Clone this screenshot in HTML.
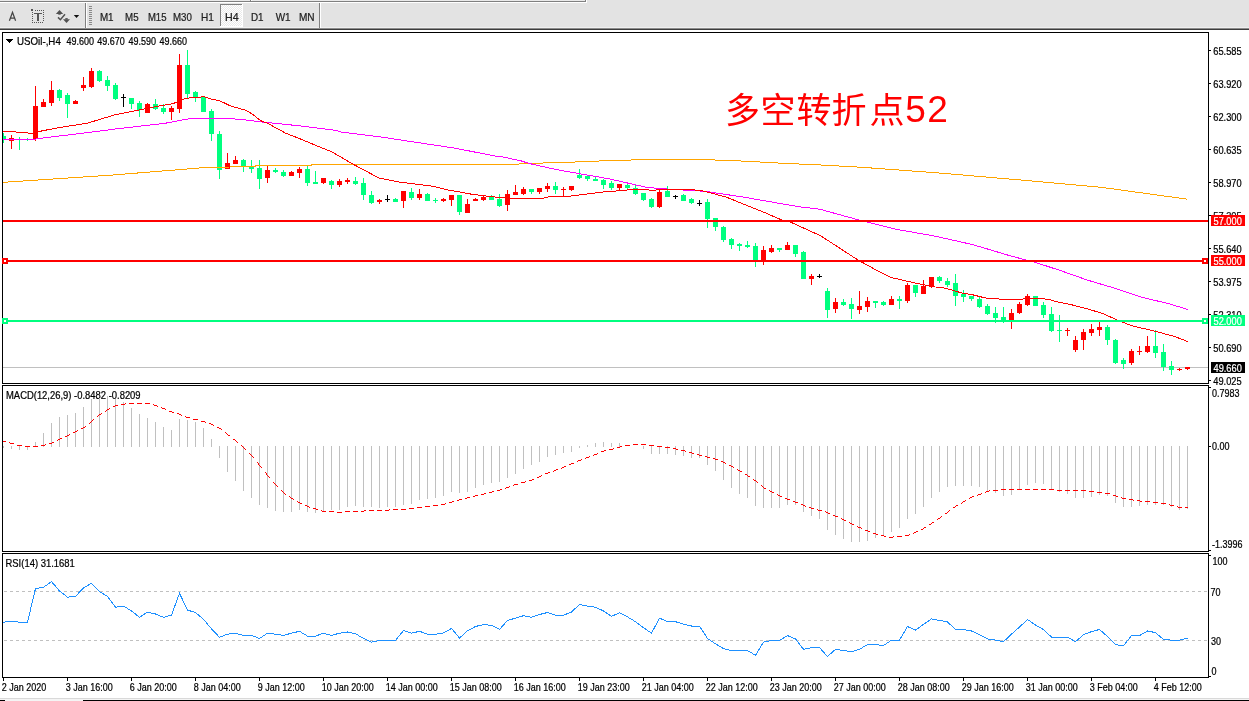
<!DOCTYPE html>
<html><head><meta charset="utf-8"><title>USOil H4</title>
<style>
html,body{margin:0;padding:0;background:#fff;}
body{width:1249px;height:701px;overflow:hidden;position:relative;}
svg{position:absolute;left:0;top:0;display:block;}
svg text{font-family:"Liberation Sans", "Noto Sans CJK SC", sans-serif;}
svg text.s{stroke:currentColor;stroke-width:0.22px;}
</style></head>
<body>
<svg width="1249" height="701" viewBox="0 0 1249 701" shape-rendering="crispEdges">
<rect x="0" y="0" width="1249" height="27" fill="#e3e3e3"/>
<rect x="0" y="0" width="585" height="1" fill="#eaeaea"/>
<rect x="0" y="1" width="586" height="1" fill="#808080"/>
<rect x="585" y="0" width="1" height="1" fill="#808080"/>
<rect x="0" y="2" width="587" height="1" fill="#ffffff"/>
<rect x="586" y="0" width="1" height="2" fill="#ffffff"/>
<rect x="250" y="0" width="1" height="2" fill="#808080"/>
<rect x="251" y="0" width="1" height="1" fill="#ffffff"/>
<rect x="0" y="27" width="1249" height="1" fill="#efefef"/>
<rect x="0" y="28" width="1249" height="1" fill="#8c8c8c"/>
<rect x="0" y="29" width="1249" height="1" fill="#3c3c3c"/>
<path d="M9.4 20.8 L12.5 12.4 L15.6 20.8 M10.6 18.1 L14.4 18.1" fill="none" stroke="#444" stroke-width="1.25" shape-rendering="geometricPrecision"/>
<rect x="31" y="9" width="2" height="2" fill="#555"/>
<rect x="32" y="12" width="1" height="1" fill="#555"/>
<rect x="32" y="14" width="1" height="1" fill="#555"/>
<rect x="32" y="16" width="1" height="1" fill="#555"/>
<rect x="32" y="18" width="1" height="1" fill="#555"/>
<rect x="32" y="20" width="1" height="1" fill="#555"/>
<rect x="43" y="10" width="1" height="1" fill="#555"/>
<rect x="43" y="12" width="1" height="1" fill="#555"/>
<rect x="43" y="14" width="1" height="1" fill="#555"/>
<rect x="43" y="16" width="1" height="1" fill="#555"/>
<rect x="43" y="18" width="1" height="1" fill="#555"/>
<rect x="43" y="20" width="1" height="1" fill="#555"/>
<rect x="35" y="10" width="1" height="1" fill="#555"/>
<rect x="37" y="10" width="1" height="1" fill="#555"/>
<rect x="39" y="10" width="1" height="1" fill="#555"/>
<rect x="41" y="10" width="1" height="1" fill="#555"/>
<rect x="32" y="22" width="1" height="1" fill="#555"/>
<rect x="34" y="22" width="1" height="1" fill="#555"/>
<rect x="36" y="22" width="1" height="1" fill="#555"/>
<rect x="38" y="22" width="1" height="1" fill="#555"/>
<rect x="40" y="22" width="1" height="1" fill="#555"/>
<rect x="42" y="22" width="1" height="1" fill="#555"/>
<rect x="34" y="13" width="8" height="1" fill="#555"/>
<rect x="37" y="13" width="2" height="8" fill="#555"/>
<g shape-rendering="geometricPrecision" fill="#505050">
<path d="M55.8 14 L59.5 10 L63.2 14 Z"/><rect x="58.3" y="13.5" width="2.4" height="1.2"/>
<path d="M63 19.3 L66.5 23 L70 19.3 Z"/><rect x="65.3" y="18.1" width="2.4" height="1.4"/>
<path d="M58 17.4 L60.4 19.7 L65 14.3" fill="none" stroke="#505050" stroke-width="1.5"/>
<path d="M73.8 15 L79.2 15 L76.5 18 Z" fill="#111"/>
</g>
<rect x="85" y="3" width="1" height="25" fill="#808080"/>
<rect x="86" y="3" width="1" height="25" fill="#ffffff"/>
<rect x="319" y="3" width="1" height="25" fill="#808080"/>
<rect x="320" y="3" width="1" height="25" fill="#ffffff"/>
<rect x="89" y="6" width="3" height="1" fill="#8a8a8a"/>
<rect x="89" y="8" width="3" height="1" fill="#8a8a8a"/>
<rect x="89" y="10" width="3" height="1" fill="#8a8a8a"/>
<rect x="89" y="12" width="3" height="1" fill="#8a8a8a"/>
<rect x="89" y="14" width="3" height="1" fill="#8a8a8a"/>
<rect x="89" y="16" width="3" height="1" fill="#8a8a8a"/>
<rect x="89" y="18" width="3" height="1" fill="#8a8a8a"/>
<rect x="89" y="20" width="3" height="1" fill="#8a8a8a"/>
<rect x="89" y="22" width="3" height="1" fill="#8a8a8a"/>
<rect x="89" y="24" width="3" height="1" fill="#8a8a8a"/>
<defs><pattern id="chk" width="2" height="2" patternUnits="userSpaceOnUse"><rect width="2" height="2" fill="#e9e9e9"/><rect width="1" height="1" fill="#ffffff"/><rect x="1" y="1" width="1" height="1" fill="#ffffff"/></pattern></defs>
<rect x="220" y="4" width="23" height="23" fill="url(#chk)"/>
<rect x="220" y="4" width="23" height="1" fill="#808080"/>
<rect x="220" y="4" width="1" height="23" fill="#808080"/>
<rect x="242" y="4" width="1" height="23" fill="#ffffff"/>
<rect x="220" y="26" width="23" height="1" fill="#ffffff"/>
<text class="s" x="111.00" y="20.60" fill="#222" color="#222" font-size="10" transform="scale(0.9 1)" textLength="15.22" lengthAdjust="spacingAndGlyphs">M1</text>
<text class="s" x="139.00" y="20.60" fill="#222" color="#222" font-size="10" transform="scale(0.9 1)" textLength="15.00" lengthAdjust="spacingAndGlyphs">M5</text>
<text class="s" x="164.33" y="20.60" fill="#222" color="#222" font-size="10" transform="scale(0.9 1)" textLength="20.67" lengthAdjust="spacingAndGlyphs">M15</text>
<text class="s" x="192.11" y="20.60" fill="#222" color="#222" font-size="10" transform="scale(0.9 1)" textLength="21.00" lengthAdjust="spacingAndGlyphs">M30</text>
<text class="s" x="223.22" y="20.60" fill="#222" color="#222" font-size="10" transform="scale(0.9 1)" textLength="14.33" lengthAdjust="spacingAndGlyphs">H1</text>
<text class="s" x="249.89" y="20.60" fill="#222" color="#222" font-size="10" transform="scale(0.9 1)" textLength="15.22" lengthAdjust="spacingAndGlyphs">H4</text>
<text class="s" x="278.89" y="20.60" fill="#222" color="#222" font-size="10" transform="scale(0.9 1)" textLength="14.00" lengthAdjust="spacingAndGlyphs">D1</text>
<text class="s" x="306.33" y="20.60" fill="#222" color="#222" font-size="10" transform="scale(0.9 1)" textLength="16.56" lengthAdjust="spacingAndGlyphs">W1</text>
<text class="s" x="332.11" y="20.60" fill="#222" color="#222" font-size="10" transform="scale(0.9 1)" textLength="17.44" lengthAdjust="spacingAndGlyphs">MN</text>
<defs><clipPath id="cm"><rect x="3" y="33" width="1205" height="350"/></clipPath><clipPath id="cd"><rect x="3" y="386" width="1205" height="165"/></clipPath><clipPath id="cr"><rect x="3" y="554" width="1205" height="123"/></clipPath></defs>
<rect x="2.5" y="32.5" width="1206" height="351" fill="none" stroke="#000" stroke-width="1"/>
<rect x="2.5" y="385.5" width="1206" height="166" fill="none" stroke="#000" stroke-width="1"/>
<rect x="2.5" y="553.5" width="1206" height="124" fill="none" stroke="#000" stroke-width="1"/>
<g clip-path="url(#cm)">
<rect x="3" y="367" width="1205" height="1" fill="#c0c0c0"/>
<rect x="3" y="133" width="1" height="10" fill="#00ff7f"/>
<rect x="1" y="136" width="5" height="3" fill="#00ff7f"/>
<rect x="11" y="135" width="1" height="14" fill="#ff0000"/>
<rect x="9" y="138" width="5" height="3" fill="#ff0000"/>
<rect x="19" y="137" width="1" height="13" fill="#00ff7f"/>
<rect x="17" y="139" width="5" height="1" fill="#00ff7f"/>
<rect x="27" y="138" width="1" height="3" fill="#00ff7f"/>
<rect x="25" y="139" width="5" height="1" fill="#00ff7f"/>
<rect x="35" y="86" width="1" height="55" fill="#ff0000"/>
<rect x="33" y="106" width="5" height="33" fill="#ff0000"/>
<rect x="43" y="99" width="1" height="8" fill="#ff0000"/>
<rect x="41" y="102" width="5" height="5" fill="#ff0000"/>
<rect x="51" y="81" width="1" height="25" fill="#ff0000"/>
<rect x="49" y="90" width="5" height="13" fill="#ff0000"/>
<rect x="59" y="89" width="1" height="12" fill="#00ff7f"/>
<rect x="57" y="90" width="5" height="8" fill="#00ff7f"/>
<rect x="67" y="93" width="1" height="25" fill="#00ff7f"/>
<rect x="65" y="95" width="5" height="9" fill="#00ff7f"/>
<rect x="75" y="100" width="1" height="4" fill="#ff0000"/>
<rect x="73" y="101" width="5" height="3" fill="#ff0000"/>
<rect x="83" y="77" width="1" height="14" fill="#ff0000"/>
<rect x="81" y="85" width="5" height="3" fill="#ff0000"/>
<rect x="91" y="68" width="1" height="20" fill="#ff0000"/>
<rect x="89" y="71" width="5" height="16" fill="#ff0000"/>
<rect x="99" y="70" width="1" height="12" fill="#00ff7f"/>
<rect x="97" y="71" width="5" height="10" fill="#00ff7f"/>
<rect x="107" y="76" width="1" height="15" fill="#00ff7f"/>
<rect x="105" y="80" width="5" height="6" fill="#00ff7f"/>
<rect x="115" y="83" width="1" height="17" fill="#00ff7f"/>
<rect x="113" y="85" width="5" height="14" fill="#00ff7f"/>
<rect x="123" y="94" width="1" height="13" fill="#000000"/>
<rect x="121" y="97" width="5" height="1" fill="#000000"/>
<rect x="131" y="98" width="1" height="11" fill="#00ff7f"/>
<rect x="129" y="98" width="5" height="6" fill="#00ff7f"/>
<rect x="139" y="101" width="1" height="16" fill="#00ff7f"/>
<rect x="137" y="103" width="5" height="7" fill="#00ff7f"/>
<rect x="147" y="103" width="1" height="10" fill="#ff0000"/>
<rect x="145" y="104" width="5" height="9" fill="#ff0000"/>
<rect x="155" y="99" width="1" height="11" fill="#00ff7f"/>
<rect x="153" y="104" width="5" height="5" fill="#00ff7f"/>
<rect x="163" y="104" width="1" height="10" fill="#00ff7f"/>
<rect x="161" y="108" width="5" height="4" fill="#00ff7f"/>
<rect x="171" y="106" width="1" height="14" fill="#ff0000"/>
<rect x="169" y="108" width="5" height="4" fill="#ff0000"/>
<rect x="179" y="54" width="1" height="59" fill="#ff0000"/>
<rect x="177" y="65" width="5" height="44" fill="#ff0000"/>
<rect x="187" y="50" width="1" height="48" fill="#00ff7f"/>
<rect x="185" y="65" width="5" height="29" fill="#00ff7f"/>
<rect x="195" y="91" width="1" height="11" fill="#00ff7f"/>
<rect x="193" y="92" width="5" height="5" fill="#00ff7f"/>
<rect x="203" y="97" width="1" height="15" fill="#00ff7f"/>
<rect x="201" y="97" width="5" height="15" fill="#00ff7f"/>
<rect x="211" y="109" width="1" height="32" fill="#00ff7f"/>
<rect x="209" y="111" width="5" height="23" fill="#00ff7f"/>
<rect x="219" y="131" width="1" height="48" fill="#00ff7f"/>
<rect x="217" y="134" width="5" height="36" fill="#00ff7f"/>
<rect x="227" y="153" width="1" height="16" fill="#ff0000"/>
<rect x="225" y="163" width="5" height="6" fill="#ff0000"/>
<rect x="235" y="156" width="1" height="8" fill="#ff0000"/>
<rect x="233" y="160" width="5" height="4" fill="#ff0000"/>
<rect x="243" y="159" width="1" height="13" fill="#00ff7f"/>
<rect x="241" y="160" width="5" height="7" fill="#00ff7f"/>
<rect x="251" y="160" width="1" height="13" fill="#00ff7f"/>
<rect x="249" y="166" width="5" height="3" fill="#00ff7f"/>
<rect x="259" y="160" width="1" height="29" fill="#00ff7f"/>
<rect x="257" y="168" width="5" height="11" fill="#00ff7f"/>
<rect x="267" y="165" width="1" height="18" fill="#ff0000"/>
<rect x="265" y="170" width="5" height="8" fill="#ff0000"/>
<rect x="275" y="168" width="1" height="5" fill="#00ff7f"/>
<rect x="273" y="170" width="5" height="2" fill="#00ff7f"/>
<rect x="283" y="170" width="1" height="7" fill="#00ff7f"/>
<rect x="281" y="172" width="5" height="4" fill="#00ff7f"/>
<rect x="291" y="171" width="1" height="5" fill="#ff0000"/>
<rect x="289" y="172" width="5" height="4" fill="#ff0000"/>
<rect x="299" y="167" width="1" height="11" fill="#ff0000"/>
<rect x="297" y="169" width="5" height="4" fill="#ff0000"/>
<rect x="307" y="165" width="1" height="21" fill="#00ff7f"/>
<rect x="305" y="169" width="5" height="14" fill="#00ff7f"/>
<rect x="315" y="171" width="1" height="13" fill="#00ff7f"/>
<rect x="313" y="182" width="5" height="2" fill="#00ff7f"/>
<rect x="323" y="178" width="1" height="6" fill="#ff0000"/>
<rect x="321" y="178" width="5" height="5" fill="#ff0000"/>
<rect x="331" y="180" width="1" height="9" fill="#00ff7f"/>
<rect x="329" y="181" width="5" height="4" fill="#00ff7f"/>
<rect x="339" y="179" width="1" height="8" fill="#ff0000"/>
<rect x="337" y="181" width="5" height="4" fill="#ff0000"/>
<rect x="347" y="178" width="1" height="6" fill="#ff0000"/>
<rect x="345" y="180" width="5" height="2" fill="#ff0000"/>
<rect x="355" y="177" width="1" height="8" fill="#00ff7f"/>
<rect x="353" y="181" width="5" height="3" fill="#00ff7f"/>
<rect x="363" y="178" width="1" height="22" fill="#00ff7f"/>
<rect x="361" y="183" width="5" height="12" fill="#00ff7f"/>
<rect x="371" y="191" width="1" height="13" fill="#00ff7f"/>
<rect x="369" y="195" width="5" height="8" fill="#00ff7f"/>
<rect x="379" y="199" width="1" height="5" fill="#ff0000"/>
<rect x="377" y="200" width="5" height="2" fill="#ff0000"/>
<rect x="387" y="195" width="1" height="7" fill="#000000"/>
<rect x="385" y="199" width="5" height="1" fill="#000000"/>
<rect x="395" y="198" width="1" height="4" fill="#00ff7f"/>
<rect x="393" y="199" width="5" height="3" fill="#00ff7f"/>
<rect x="403" y="191" width="1" height="17" fill="#ff0000"/>
<rect x="401" y="191" width="5" height="10" fill="#ff0000"/>
<rect x="411" y="188" width="1" height="12" fill="#00ff7f"/>
<rect x="409" y="192" width="5" height="6" fill="#00ff7f"/>
<rect x="419" y="189" width="1" height="11" fill="#ff0000"/>
<rect x="417" y="194" width="5" height="4" fill="#ff0000"/>
<rect x="427" y="193" width="1" height="8" fill="#00ff7f"/>
<rect x="425" y="194" width="5" height="7" fill="#00ff7f"/>
<rect x="435" y="198" width="1" height="5" fill="#00ff7f"/>
<rect x="433" y="200" width="5" height="1" fill="#00ff7f"/>
<rect x="443" y="198" width="1" height="4" fill="#ff0000"/>
<rect x="441" y="199" width="5" height="2" fill="#ff0000"/>
<rect x="451" y="195" width="1" height="11" fill="#ff0000"/>
<rect x="449" y="195" width="5" height="5" fill="#ff0000"/>
<rect x="459" y="195" width="1" height="20" fill="#00ff7f"/>
<rect x="457" y="195" width="5" height="17" fill="#00ff7f"/>
<rect x="467" y="199" width="1" height="14" fill="#ff0000"/>
<rect x="465" y="204" width="5" height="9" fill="#ff0000"/>
<rect x="475" y="198" width="1" height="3" fill="#ff0000"/>
<rect x="473" y="199" width="5" height="2" fill="#ff0000"/>
<rect x="483" y="196" width="1" height="5" fill="#ff0000"/>
<rect x="481" y="197" width="5" height="3" fill="#ff0000"/>
<rect x="491" y="195" width="1" height="5" fill="#00ff7f"/>
<rect x="489" y="197" width="5" height="3" fill="#00ff7f"/>
<rect x="499" y="194" width="1" height="13" fill="#00ff7f"/>
<rect x="497" y="199" width="5" height="7" fill="#00ff7f"/>
<rect x="507" y="190" width="1" height="21" fill="#ff0000"/>
<rect x="505" y="194" width="5" height="11" fill="#ff0000"/>
<rect x="515" y="185" width="1" height="10" fill="#ff0000"/>
<rect x="513" y="192" width="5" height="3" fill="#ff0000"/>
<rect x="523" y="187" width="1" height="8" fill="#ff0000"/>
<rect x="521" y="189" width="5" height="5" fill="#ff0000"/>
<rect x="531" y="189" width="1" height="5" fill="#00ff7f"/>
<rect x="529" y="189" width="5" height="3" fill="#00ff7f"/>
<rect x="539" y="188" width="1" height="6" fill="#ff0000"/>
<rect x="537" y="188" width="5" height="4" fill="#ff0000"/>
<rect x="547" y="183" width="1" height="9" fill="#ff0000"/>
<rect x="545" y="186" width="5" height="3" fill="#ff0000"/>
<rect x="555" y="182" width="1" height="12" fill="#00ff7f"/>
<rect x="553" y="186" width="5" height="4" fill="#00ff7f"/>
<rect x="563" y="187" width="1" height="9" fill="#ff0000"/>
<rect x="561" y="189" width="5" height="1" fill="#ff0000"/>
<rect x="571" y="186" width="1" height="5" fill="#ff0000"/>
<rect x="569" y="186" width="5" height="4" fill="#ff0000"/>
<rect x="579" y="169" width="1" height="10" fill="#00ff7f"/>
<rect x="577" y="175" width="5" height="3" fill="#00ff7f"/>
<rect x="587" y="176" width="1" height="5" fill="#00ff7f"/>
<rect x="585" y="176" width="5" height="3" fill="#00ff7f"/>
<rect x="595" y="177" width="1" height="4" fill="#00ff7f"/>
<rect x="593" y="179" width="5" height="2" fill="#00ff7f"/>
<rect x="603" y="179" width="1" height="10" fill="#00ff7f"/>
<rect x="601" y="180" width="5" height="5" fill="#00ff7f"/>
<rect x="611" y="181" width="1" height="9" fill="#00ff7f"/>
<rect x="609" y="183" width="5" height="5" fill="#00ff7f"/>
<rect x="619" y="184" width="1" height="7" fill="#ff0000"/>
<rect x="617" y="184" width="5" height="4" fill="#ff0000"/>
<rect x="627" y="184" width="1" height="5" fill="#00ff7f"/>
<rect x="625" y="185" width="5" height="3" fill="#00ff7f"/>
<rect x="635" y="185" width="1" height="10" fill="#00ff7f"/>
<rect x="633" y="188" width="5" height="6" fill="#00ff7f"/>
<rect x="643" y="193" width="1" height="8" fill="#00ff7f"/>
<rect x="641" y="193" width="5" height="7" fill="#00ff7f"/>
<rect x="651" y="198" width="1" height="10" fill="#00ff7f"/>
<rect x="649" y="199" width="5" height="8" fill="#00ff7f"/>
<rect x="659" y="189" width="1" height="19" fill="#ff0000"/>
<rect x="657" y="192" width="5" height="15" fill="#ff0000"/>
<rect x="667" y="186" width="1" height="11" fill="#00ff7f"/>
<rect x="665" y="191" width="5" height="6" fill="#00ff7f"/>
<rect x="675" y="195" width="1" height="4" fill="#000000"/>
<rect x="673" y="196" width="5" height="1" fill="#000000"/>
<rect x="683" y="194" width="1" height="7" fill="#00ff7f"/>
<rect x="681" y="195" width="5" height="6" fill="#00ff7f"/>
<rect x="691" y="198" width="1" height="6" fill="#00ff7f"/>
<rect x="689" y="199" width="5" height="4" fill="#00ff7f"/>
<rect x="699" y="200" width="1" height="6" fill="#000000"/>
<rect x="697" y="203" width="5" height="1" fill="#000000"/>
<rect x="707" y="199" width="1" height="29" fill="#00ff7f"/>
<rect x="705" y="202" width="5" height="17" fill="#00ff7f"/>
<rect x="715" y="218" width="1" height="13" fill="#00ff7f"/>
<rect x="713" y="218" width="5" height="9" fill="#00ff7f"/>
<rect x="723" y="226" width="1" height="16" fill="#00ff7f"/>
<rect x="721" y="227" width="5" height="13" fill="#00ff7f"/>
<rect x="731" y="238" width="1" height="11" fill="#00ff7f"/>
<rect x="729" y="239" width="5" height="6" fill="#00ff7f"/>
<rect x="739" y="243" width="1" height="8" fill="#00ff7f"/>
<rect x="737" y="244" width="5" height="2" fill="#00ff7f"/>
<rect x="747" y="241" width="1" height="7" fill="#00ff7f"/>
<rect x="745" y="245" width="5" height="2" fill="#00ff7f"/>
<rect x="755" y="243" width="1" height="24" fill="#00ff7f"/>
<rect x="753" y="246" width="5" height="16" fill="#00ff7f"/>
<rect x="763" y="246" width="1" height="19" fill="#ff0000"/>
<rect x="761" y="250" width="5" height="10" fill="#ff0000"/>
<rect x="771" y="245" width="1" height="8" fill="#ff0000"/>
<rect x="769" y="248" width="5" height="4" fill="#ff0000"/>
<rect x="779" y="248" width="1" height="4" fill="#00ff7f"/>
<rect x="777" y="248" width="5" height="2" fill="#00ff7f"/>
<rect x="787" y="242" width="1" height="8" fill="#ff0000"/>
<rect x="785" y="245" width="5" height="5" fill="#ff0000"/>
<rect x="795" y="245" width="1" height="12" fill="#00ff7f"/>
<rect x="793" y="245" width="5" height="9" fill="#00ff7f"/>
<rect x="803" y="251" width="1" height="28" fill="#00ff7f"/>
<rect x="801" y="252" width="5" height="27" fill="#00ff7f"/>
<rect x="811" y="274" width="1" height="11" fill="#ff0000"/>
<rect x="809" y="276" width="5" height="3" fill="#ff0000"/>
<rect x="819" y="274" width="1" height="4" fill="#000000"/>
<rect x="817" y="276" width="5" height="1" fill="#000000"/>
<rect x="827" y="288" width="1" height="30" fill="#00ff7f"/>
<rect x="825" y="291" width="5" height="19" fill="#00ff7f"/>
<rect x="835" y="298" width="1" height="15" fill="#ff0000"/>
<rect x="833" y="302" width="5" height="7" fill="#ff0000"/>
<rect x="843" y="299" width="1" height="7" fill="#00ff7f"/>
<rect x="841" y="302" width="5" height="3" fill="#00ff7f"/>
<rect x="851" y="298" width="1" height="21" fill="#00ff7f"/>
<rect x="849" y="304" width="5" height="5" fill="#00ff7f"/>
<rect x="859" y="291" width="1" height="23" fill="#ff0000"/>
<rect x="857" y="306" width="5" height="4" fill="#ff0000"/>
<rect x="867" y="297" width="1" height="15" fill="#ff0000"/>
<rect x="865" y="301" width="5" height="6" fill="#ff0000"/>
<rect x="875" y="301" width="1" height="7" fill="#00ff7f"/>
<rect x="873" y="301" width="5" height="2" fill="#00ff7f"/>
<rect x="883" y="301" width="1" height="5" fill="#00ff7f"/>
<rect x="881" y="302" width="5" height="3" fill="#00ff7f"/>
<rect x="891" y="296" width="1" height="9" fill="#ff0000"/>
<rect x="889" y="299" width="5" height="6" fill="#ff0000"/>
<rect x="899" y="296" width="1" height="13" fill="#00ff7f"/>
<rect x="897" y="299" width="5" height="2" fill="#00ff7f"/>
<rect x="907" y="283" width="1" height="20" fill="#ff0000"/>
<rect x="905" y="285" width="5" height="16" fill="#ff0000"/>
<rect x="915" y="285" width="1" height="12" fill="#00ff7f"/>
<rect x="913" y="285" width="5" height="8" fill="#00ff7f"/>
<rect x="923" y="280" width="1" height="14" fill="#ff0000"/>
<rect x="921" y="286" width="5" height="8" fill="#ff0000"/>
<rect x="931" y="277" width="1" height="11" fill="#ff0000"/>
<rect x="929" y="277" width="5" height="10" fill="#ff0000"/>
<rect x="939" y="276" width="1" height="7" fill="#00ff7f"/>
<rect x="937" y="277" width="5" height="4" fill="#00ff7f"/>
<rect x="947" y="278" width="1" height="9" fill="#00ff7f"/>
<rect x="945" y="281" width="5" height="4" fill="#00ff7f"/>
<rect x="955" y="274" width="1" height="32" fill="#00ff7f"/>
<rect x="953" y="283" width="5" height="13" fill="#00ff7f"/>
<rect x="963" y="290" width="1" height="12" fill="#00ff7f"/>
<rect x="961" y="294" width="5" height="3" fill="#00ff7f"/>
<rect x="971" y="296" width="1" height="5" fill="#00ff7f"/>
<rect x="969" y="296" width="5" height="3" fill="#00ff7f"/>
<rect x="979" y="297" width="1" height="11" fill="#00ff7f"/>
<rect x="977" y="299" width="5" height="8" fill="#00ff7f"/>
<rect x="987" y="304" width="1" height="11" fill="#00ff7f"/>
<rect x="985" y="306" width="5" height="8" fill="#00ff7f"/>
<rect x="995" y="307" width="1" height="16" fill="#00ff7f"/>
<rect x="993" y="313" width="5" height="5" fill="#00ff7f"/>
<rect x="1003" y="307" width="1" height="16" fill="#00ff7f"/>
<rect x="1001" y="317" width="5" height="4" fill="#00ff7f"/>
<rect x="1011" y="309" width="1" height="20" fill="#ff0000"/>
<rect x="1009" y="313" width="5" height="7" fill="#ff0000"/>
<rect x="1019" y="302" width="1" height="12" fill="#ff0000"/>
<rect x="1017" y="304" width="5" height="9" fill="#ff0000"/>
<rect x="1027" y="294" width="1" height="12" fill="#ff0000"/>
<rect x="1025" y="296" width="5" height="9" fill="#ff0000"/>
<rect x="1035" y="296" width="1" height="10" fill="#00ff7f"/>
<rect x="1033" y="296" width="5" height="10" fill="#00ff7f"/>
<rect x="1043" y="302" width="1" height="16" fill="#00ff7f"/>
<rect x="1041" y="305" width="5" height="10" fill="#00ff7f"/>
<rect x="1051" y="307" width="1" height="25" fill="#00ff7f"/>
<rect x="1049" y="314" width="5" height="17" fill="#00ff7f"/>
<rect x="1059" y="315" width="1" height="27" fill="#00ff7f"/>
<rect x="1057" y="330" width="5" height="1" fill="#00ff7f"/>
<rect x="1067" y="328" width="1" height="8" fill="#ff0000"/>
<rect x="1065" y="330" width="5" height="1" fill="#ff0000"/>
<rect x="1075" y="336" width="1" height="16" fill="#ff0000"/>
<rect x="1073" y="340" width="5" height="10" fill="#ff0000"/>
<rect x="1083" y="329" width="1" height="21" fill="#ff0000"/>
<rect x="1081" y="332" width="5" height="8" fill="#ff0000"/>
<rect x="1091" y="324" width="1" height="12" fill="#ff0000"/>
<rect x="1089" y="329" width="5" height="4" fill="#ff0000"/>
<rect x="1099" y="322" width="1" height="14" fill="#ff0000"/>
<rect x="1097" y="327" width="5" height="3" fill="#ff0000"/>
<rect x="1107" y="325" width="1" height="20" fill="#00ff7f"/>
<rect x="1105" y="327" width="5" height="13" fill="#00ff7f"/>
<rect x="1115" y="339" width="1" height="25" fill="#00ff7f"/>
<rect x="1113" y="340" width="5" height="23" fill="#00ff7f"/>
<rect x="1123" y="358" width="1" height="11" fill="#00ff7f"/>
<rect x="1121" y="360" width="5" height="4" fill="#00ff7f"/>
<rect x="1131" y="349" width="1" height="16" fill="#ff0000"/>
<rect x="1129" y="351" width="5" height="12" fill="#ff0000"/>
<rect x="1139" y="346" width="1" height="9" fill="#ff0000"/>
<rect x="1137" y="351" width="5" height="1" fill="#ff0000"/>
<rect x="1147" y="336" width="1" height="17" fill="#ff0000"/>
<rect x="1145" y="346" width="5" height="6" fill="#ff0000"/>
<rect x="1155" y="330" width="1" height="28" fill="#00ff7f"/>
<rect x="1153" y="346" width="5" height="7" fill="#00ff7f"/>
<rect x="1163" y="344" width="1" height="27" fill="#00ff7f"/>
<rect x="1161" y="352" width="5" height="15" fill="#00ff7f"/>
<rect x="1171" y="361" width="1" height="14" fill="#00ff7f"/>
<rect x="1169" y="366" width="5" height="4" fill="#00ff7f"/>
<rect x="1179" y="368" width="1" height="3" fill="#ff0000"/>
<rect x="1177" y="369" width="5" height="1" fill="#ff0000"/>
<rect x="1187" y="367" width="1" height="3" fill="#ff0000"/>
<rect x="1185" y="367" width="5" height="2" fill="#ff0000"/>
<polyline points="2.0,182.3 3.5,182.3 110.5,175.2 205.5,167.5 254.5,166.5 256.5,165.5 310.5,165.5 312.5,164.5 518.5,164.5 519.5,163.5 542.5,163.5 543.5,162.5 574.5,162.5 575.5,161.5 598.5,161.5 599.5,160.5 630.5,160.5 631.5,159.5 700.5,159.5 705.0,159.6 743.4,161.1 768.4,162.5 793.4,163.8 810.5,164.4 860.5,167.2 940.5,173.1 1020.5,180.0 1100.5,187.2 1187.5,199.2" fill="none" stroke="#ffa500" stroke-width="1"/>
<polyline points="2.0,139.6 3.5,139.6 33.5,139.6 38.0,138.6 77.5,133.8 115.5,129.0 165.5,123.2 185.1,119.4 192.5,118.5 220.5,118.4 239.7,119.2 264.7,122.3 297.4,125.6 335.8,130.4 340.5,131.9 378.9,136.7 417.4,142.5 455.8,148.3 494.2,155.9 500.5,156.5 506.1,157.6 512.8,159.3 519.6,160.4 526.3,162.6 531.9,164.1 538.6,165.7 545.3,167.1 552.1,168.6 558.8,169.9 565.5,171.3 570.5,172.1 608.9,178.8 647.4,187.5 672.3,189.4 705.0,191.3 743.4,197.1 781.9,203.8 800.5,206.9 819.7,209.2 858.1,219.8 896.6,229.4 935.0,236.1 973.4,244.8 1011.9,256.3 1034.8,262.2 1059.3,270.2 1088.1,280.3 1117.0,288.9 1142.9,297.6 1167.4,303.3 1187.6,309.4" fill="none" stroke="#ff00ff" stroke-width="1"/>
<polyline points="2.0,131.5 3.5,131.5 23.5,132.3 31.3,133.5 39.0,131.5 58.2,127.7 87.0,123.3 115.5,114.6 135.1,110.8 154.3,106.9 173.5,103.5 183.2,99.2 192.5,97.3 204.3,96.9 212.0,99.2 220.5,101.1 230.1,105.8 245.5,110.2 252.2,114.0 260.8,120.8 266.5,122.7 285.9,133.3 297.4,137.7 316.5,145.7 331.9,151.9 340.5,156.9 352.0,163.6 378.9,178.0 398.1,181.9 430.5,185.9 438.3,187.5 448.2,190.1 458.1,191.7 472.1,194.3 480.5,195.3 488.8,196.3 497.1,197.2 512.7,198.4 542.9,198.4 551.2,196.3 560.5,196.3 570.5,196.1 583.5,194.5 591.9,193.4 599.7,192.5 607.6,191.4 619.9,190.8 624.4,190.3 632.2,189.4 647.9,189.4 649.1,190.3 655.8,190.3 656.9,189.4 672.6,189.4 680.4,189.7 688.3,189.7 700.5,190.3 707.6,192.1 726.2,197.1 747.6,205.7 761.9,211.4 781.8,220.0 790.4,222.1 804.7,228.5 820.5,235.7 838.9,247.6 858.1,260.1 877.4,270.7 890.8,277.4 915.8,283.2 935.0,287.0 940.5,287.1 951.2,289.8 961.9,293.0 972.6,294.8 985.4,298.0 1000.4,299.1 1022.9,299.1 1026.1,297.3 1031.4,298.4 1047.5,299.1 1058.2,302.1 1070.5,304.5 1088.1,309.1 1102.6,313.4 1117.0,319.9 1131.4,325.7 1153.0,330.7 1174.6,336.5 1187.6,341.5" fill="none" stroke="#ff0000" stroke-width="1"/>
<rect x="3" y="220" width="1205" height="2" fill="#ff0000"/>
<rect x="3" y="260" width="1205" height="2" fill="#ff0000"/>
<rect x="3" y="320" width="1205" height="2" fill="#00ff7f"/>
</g>
<rect x="2" y="258" width="6" height="6" fill="#ff0000"/>
<rect x="4" y="260" width="2" height="2" fill="#ffffff"/>
<rect x="1202" y="258" width="6" height="6" fill="#ff0000"/>
<rect x="1204" y="260" width="2" height="2" fill="#ffffff"/>
<rect x="2" y="318" width="6" height="6" fill="#00ff7f"/>
<rect x="4" y="320" width="2" height="2" fill="#ffffff"/>
<rect x="1202" y="318" width="6" height="6" fill="#00ff7f"/>
<rect x="1204" y="320" width="2" height="2" fill="#ffffff"/>
<path d="M6 39 L13 39 L9.5 43 Z" fill="#000"/>
<text class="s" x="18.89" y="44.60" fill="#000" color="#000" font-size="10" transform="scale(0.9 1)" textLength="48.67" lengthAdjust="spacingAndGlyphs">USOil-,H4</text>
<text class="s" x="73.78" y="44.60" fill="#000" color="#000" font-size="10" transform="scale(0.9 1)">49.600</text>
<text class="s" x="108.00" y="44.60" fill="#000" color="#000" font-size="10" transform="scale(0.9 1)">49.670</text>
<text class="s" x="142.67" y="44.60" fill="#000" color="#000" font-size="10" transform="scale(0.9 1)">49.590</text>
<text class="s" x="177.33" y="44.60" fill="#000" color="#000" font-size="10" transform="scale(0.9 1)">49.660</text>
<text x="725.1 760.5 796.5 831.5 869.5" y="122.5" fill="#ff0000" font-size="35">多空转折点<tspan x="905.2 927.3" y="121.7" font-size="37">52</tspan></text>
<rect x="1209" y="50" width="2" height="1" fill="#000"/>
<text class="s" x="1348.11" y="54.60" fill="#000" color="#000" font-size="10" transform="scale(0.9 1)" textLength="31.44" lengthAdjust="spacingAndGlyphs">65.585</text>
<rect x="1209" y="83" width="2" height="1" fill="#000"/>
<text class="s" x="1348.11" y="87.60" fill="#000" color="#000" font-size="10" transform="scale(0.9 1)" textLength="31.44" lengthAdjust="spacingAndGlyphs">63.920</text>
<rect x="1209" y="116" width="2" height="1" fill="#000"/>
<text class="s" x="1348.11" y="120.60" fill="#000" color="#000" font-size="10" transform="scale(0.9 1)" textLength="31.44" lengthAdjust="spacingAndGlyphs">62.300</text>
<rect x="1209" y="149" width="2" height="1" fill="#000"/>
<text class="s" x="1348.11" y="153.60" fill="#000" color="#000" font-size="10" transform="scale(0.9 1)" textLength="31.44" lengthAdjust="spacingAndGlyphs">60.635</text>
<rect x="1209" y="182" width="2" height="1" fill="#000"/>
<text class="s" x="1348.11" y="186.60" fill="#000" color="#000" font-size="10" transform="scale(0.9 1)" textLength="31.44" lengthAdjust="spacingAndGlyphs">58.970</text>
<rect x="1209" y="215" width="2" height="1" fill="#000"/>
<text class="s" x="1348.11" y="219.60" fill="#000" color="#000" font-size="10" transform="scale(0.9 1)" textLength="31.44" lengthAdjust="spacingAndGlyphs">57.305</text>
<rect x="1209" y="248" width="2" height="1" fill="#000"/>
<text class="s" x="1348.11" y="252.60" fill="#000" color="#000" font-size="10" transform="scale(0.9 1)" textLength="31.44" lengthAdjust="spacingAndGlyphs">55.640</text>
<rect x="1209" y="281" width="2" height="1" fill="#000"/>
<text class="s" x="1348.11" y="285.60" fill="#000" color="#000" font-size="10" transform="scale(0.9 1)" textLength="31.44" lengthAdjust="spacingAndGlyphs">53.975</text>
<rect x="1209" y="314" width="2" height="1" fill="#000"/>
<text class="s" x="1348.11" y="318.60" fill="#000" color="#000" font-size="10" transform="scale(0.9 1)" textLength="31.44" lengthAdjust="spacingAndGlyphs">52.310</text>
<rect x="1209" y="347" width="2" height="1" fill="#000"/>
<text class="s" x="1348.11" y="351.60" fill="#000" color="#000" font-size="10" transform="scale(0.9 1)" textLength="31.44" lengthAdjust="spacingAndGlyphs">50.690</text>
<rect x="1209" y="380" width="2" height="1" fill="#000"/>
<text class="s" x="1348.11" y="384.60" fill="#000" color="#000" font-size="10" transform="scale(0.9 1)" textLength="31.44" lengthAdjust="spacingAndGlyphs">49.025</text>
<rect x="1211" y="215" width="34" height="11" fill="#ff0000"/>
<text class="s" x="1348.33" y="224.60" fill="#ffffff" color="#ffffff" font-size="10" transform="scale(0.9 1)" textLength="31.44" lengthAdjust="spacingAndGlyphs">57.000</text>
<rect x="1211" y="255" width="34" height="11" fill="#ff0000"/>
<text class="s" x="1348.33" y="264.60" fill="#ffffff" color="#ffffff" font-size="10" transform="scale(0.9 1)" textLength="31.44" lengthAdjust="spacingAndGlyphs">55.000</text>
<rect x="1211" y="315" width="34" height="11" fill="#00ff7f"/>
<text class="s" x="1348.33" y="324.60" fill="#ffffff" color="#ffffff" font-size="10" transform="scale(0.9 1)" textLength="31.44" lengthAdjust="spacingAndGlyphs">52.000</text>
<rect x="1211" y="362" width="34" height="11" fill="#000000"/>
<text class="s" x="1348.33" y="371.60" fill="#ffffff" color="#ffffff" font-size="10" transform="scale(0.9 1)" textLength="31.44" lengthAdjust="spacingAndGlyphs">49.660</text>
<text class="s" x="6.67" y="398.60" fill="#000" color="#000" font-size="10" transform="scale(0.9 1)" textLength="149.56" lengthAdjust="spacingAndGlyphs">MACD(12,26,9) -0.8482 -0.8209</text>
<g clip-path="url(#cd)">
<rect x="3" y="446" width="1" height="2" fill="#c0c0c0"/>
<rect x="11" y="446" width="1" height="3" fill="#c0c0c0"/>
<rect x="19" y="446" width="1" height="4" fill="#c0c0c0"/>
<rect x="27" y="446" width="1" height="4" fill="#c0c0c0"/>
<rect x="35" y="442" width="1" height="5" fill="#c0c0c0"/>
<rect x="43" y="433" width="1" height="14" fill="#c0c0c0"/>
<rect x="51" y="423" width="1" height="24" fill="#c0c0c0"/>
<rect x="59" y="417" width="1" height="30" fill="#c0c0c0"/>
<rect x="67" y="415" width="1" height="32" fill="#c0c0c0"/>
<rect x="75" y="413" width="1" height="34" fill="#c0c0c0"/>
<rect x="83" y="407" width="1" height="40" fill="#c0c0c0"/>
<rect x="91" y="399" width="1" height="48" fill="#c0c0c0"/>
<rect x="99" y="398" width="1" height="49" fill="#c0c0c0"/>
<rect x="107" y="396" width="1" height="51" fill="#c0c0c0"/>
<rect x="115" y="399" width="1" height="48" fill="#c0c0c0"/>
<rect x="123" y="402" width="1" height="45" fill="#c0c0c0"/>
<rect x="131" y="408" width="1" height="39" fill="#c0c0c0"/>
<rect x="139" y="414" width="1" height="33" fill="#c0c0c0"/>
<rect x="147" y="418" width="1" height="29" fill="#c0c0c0"/>
<rect x="155" y="422" width="1" height="25" fill="#c0c0c0"/>
<rect x="163" y="427" width="1" height="20" fill="#c0c0c0"/>
<rect x="171" y="430" width="1" height="17" fill="#c0c0c0"/>
<rect x="179" y="419" width="1" height="28" fill="#c0c0c0"/>
<rect x="187" y="420" width="1" height="27" fill="#c0c0c0"/>
<rect x="195" y="422" width="1" height="25" fill="#c0c0c0"/>
<rect x="203" y="428" width="1" height="19" fill="#c0c0c0"/>
<rect x="211" y="439" width="1" height="8" fill="#c0c0c0"/>
<rect x="219" y="446" width="1" height="12" fill="#c0c0c0"/>
<rect x="227" y="446" width="1" height="26" fill="#c0c0c0"/>
<rect x="235" y="446" width="1" height="35" fill="#c0c0c0"/>
<rect x="243" y="446" width="1" height="45" fill="#c0c0c0"/>
<rect x="251" y="446" width="1" height="52" fill="#c0c0c0"/>
<rect x="259" y="446" width="1" height="59" fill="#c0c0c0"/>
<rect x="267" y="446" width="1" height="62" fill="#c0c0c0"/>
<rect x="275" y="446" width="1" height="65" fill="#c0c0c0"/>
<rect x="283" y="446" width="1" height="66" fill="#c0c0c0"/>
<rect x="291" y="446" width="1" height="66" fill="#c0c0c0"/>
<rect x="299" y="446" width="1" height="64" fill="#c0c0c0"/>
<rect x="307" y="446" width="1" height="66" fill="#c0c0c0"/>
<rect x="315" y="446" width="1" height="67" fill="#c0c0c0"/>
<rect x="323" y="446" width="1" height="65" fill="#c0c0c0"/>
<rect x="331" y="446" width="1" height="64" fill="#c0c0c0"/>
<rect x="339" y="446" width="1" height="64" fill="#c0c0c0"/>
<rect x="347" y="446" width="1" height="61" fill="#c0c0c0"/>
<rect x="355" y="446" width="1" height="60" fill="#c0c0c0"/>
<rect x="363" y="446" width="1" height="61" fill="#c0c0c0"/>
<rect x="371" y="446" width="1" height="61" fill="#c0c0c0"/>
<rect x="379" y="446" width="1" height="62" fill="#c0c0c0"/>
<rect x="387" y="446" width="1" height="61" fill="#c0c0c0"/>
<rect x="395" y="446" width="1" height="61" fill="#c0c0c0"/>
<rect x="403" y="446" width="1" height="59" fill="#c0c0c0"/>
<rect x="411" y="446" width="1" height="58" fill="#c0c0c0"/>
<rect x="419" y="446" width="1" height="54" fill="#c0c0c0"/>
<rect x="427" y="446" width="1" height="53" fill="#c0c0c0"/>
<rect x="435" y="446" width="1" height="52" fill="#c0c0c0"/>
<rect x="443" y="446" width="1" height="50" fill="#c0c0c0"/>
<rect x="451" y="446" width="1" height="46" fill="#c0c0c0"/>
<rect x="459" y="446" width="1" height="47" fill="#c0c0c0"/>
<rect x="467" y="446" width="1" height="46" fill="#c0c0c0"/>
<rect x="475" y="446" width="1" height="42" fill="#c0c0c0"/>
<rect x="483" y="446" width="1" height="39" fill="#c0c0c0"/>
<rect x="491" y="446" width="1" height="37" fill="#c0c0c0"/>
<rect x="499" y="446" width="1" height="36" fill="#c0c0c0"/>
<rect x="507" y="446" width="1" height="32" fill="#c0c0c0"/>
<rect x="515" y="446" width="1" height="28" fill="#c0c0c0"/>
<rect x="523" y="446" width="1" height="23" fill="#c0c0c0"/>
<rect x="531" y="446" width="1" height="19" fill="#c0c0c0"/>
<rect x="539" y="446" width="1" height="16" fill="#c0c0c0"/>
<rect x="547" y="446" width="1" height="11" fill="#c0c0c0"/>
<rect x="555" y="446" width="1" height="9" fill="#c0c0c0"/>
<rect x="563" y="446" width="1" height="7" fill="#c0c0c0"/>
<rect x="571" y="446" width="1" height="6" fill="#c0c0c0"/>
<rect x="579" y="446" width="1" height="2" fill="#c0c0c0"/>
<rect x="587" y="445" width="1" height="2" fill="#c0c0c0"/>
<rect x="595" y="443" width="1" height="4" fill="#c0c0c0"/>
<rect x="603" y="442" width="1" height="5" fill="#c0c0c0"/>
<rect x="611" y="443" width="1" height="4" fill="#c0c0c0"/>
<rect x="619" y="443" width="1" height="4" fill="#c0c0c0"/>
<rect x="643" y="446" width="1" height="3" fill="#c0c0c0"/>
<rect x="651" y="446" width="1" height="8" fill="#c0c0c0"/>
<rect x="659" y="446" width="1" height="8" fill="#c0c0c0"/>
<rect x="667" y="446" width="1" height="8" fill="#c0c0c0"/>
<rect x="675" y="446" width="1" height="9" fill="#c0c0c0"/>
<rect x="683" y="446" width="1" height="10" fill="#c0c0c0"/>
<rect x="691" y="446" width="1" height="12" fill="#c0c0c0"/>
<rect x="699" y="446" width="1" height="12" fill="#c0c0c0"/>
<rect x="707" y="446" width="1" height="19" fill="#c0c0c0"/>
<rect x="715" y="446" width="1" height="25" fill="#c0c0c0"/>
<rect x="723" y="446" width="1" height="34" fill="#c0c0c0"/>
<rect x="731" y="446" width="1" height="42" fill="#c0c0c0"/>
<rect x="739" y="446" width="1" height="48" fill="#c0c0c0"/>
<rect x="747" y="446" width="1" height="52" fill="#c0c0c0"/>
<rect x="755" y="446" width="1" height="60" fill="#c0c0c0"/>
<rect x="763" y="446" width="1" height="62" fill="#c0c0c0"/>
<rect x="771" y="446" width="1" height="62" fill="#c0c0c0"/>
<rect x="779" y="446" width="1" height="62" fill="#c0c0c0"/>
<rect x="787" y="446" width="1" height="59" fill="#c0c0c0"/>
<rect x="795" y="446" width="1" height="59" fill="#c0c0c0"/>
<rect x="803" y="446" width="1" height="66" fill="#c0c0c0"/>
<rect x="811" y="446" width="1" height="70" fill="#c0c0c0"/>
<rect x="819" y="446" width="1" height="73" fill="#c0c0c0"/>
<rect x="827" y="446" width="1" height="84" fill="#c0c0c0"/>
<rect x="835" y="446" width="1" height="89" fill="#c0c0c0"/>
<rect x="843" y="446" width="1" height="93" fill="#c0c0c0"/>
<rect x="851" y="446" width="1" height="96" fill="#c0c0c0"/>
<rect x="859" y="446" width="1" height="96" fill="#c0c0c0"/>
<rect x="867" y="446" width="1" height="95" fill="#c0c0c0"/>
<rect x="875" y="446" width="1" height="92" fill="#c0c0c0"/>
<rect x="883" y="446" width="1" height="90" fill="#c0c0c0"/>
<rect x="891" y="446" width="1" height="86" fill="#c0c0c0"/>
<rect x="899" y="446" width="1" height="82" fill="#c0c0c0"/>
<rect x="907" y="446" width="1" height="73" fill="#c0c0c0"/>
<rect x="915" y="446" width="1" height="68" fill="#c0c0c0"/>
<rect x="923" y="446" width="1" height="61" fill="#c0c0c0"/>
<rect x="931" y="446" width="1" height="52" fill="#c0c0c0"/>
<rect x="939" y="446" width="1" height="46" fill="#c0c0c0"/>
<rect x="947" y="446" width="1" height="41" fill="#c0c0c0"/>
<rect x="955" y="446" width="1" height="40" fill="#c0c0c0"/>
<rect x="963" y="446" width="1" height="40" fill="#c0c0c0"/>
<rect x="971" y="446" width="1" height="40" fill="#c0c0c0"/>
<rect x="979" y="446" width="1" height="41" fill="#c0c0c0"/>
<rect x="987" y="446" width="1" height="46" fill="#c0c0c0"/>
<rect x="995" y="446" width="1" height="47" fill="#c0c0c0"/>
<rect x="1003" y="446" width="1" height="50" fill="#c0c0c0"/>
<rect x="1011" y="446" width="1" height="49" fill="#c0c0c0"/>
<rect x="1019" y="446" width="1" height="44" fill="#c0c0c0"/>
<rect x="1027" y="446" width="1" height="39" fill="#c0c0c0"/>
<rect x="1035" y="446" width="1" height="37" fill="#c0c0c0"/>
<rect x="1043" y="446" width="1" height="38" fill="#c0c0c0"/>
<rect x="1051" y="446" width="1" height="43" fill="#c0c0c0"/>
<rect x="1059" y="446" width="1" height="46" fill="#c0c0c0"/>
<rect x="1067" y="446" width="1" height="48" fill="#c0c0c0"/>
<rect x="1075" y="446" width="1" height="52" fill="#c0c0c0"/>
<rect x="1083" y="446" width="1" height="52" fill="#c0c0c0"/>
<rect x="1091" y="446" width="1" height="51" fill="#c0c0c0"/>
<rect x="1099" y="446" width="1" height="49" fill="#c0c0c0"/>
<rect x="1107" y="446" width="1" height="50" fill="#c0c0c0"/>
<rect x="1115" y="446" width="1" height="57" fill="#c0c0c0"/>
<rect x="1123" y="446" width="1" height="61" fill="#c0c0c0"/>
<rect x="1131" y="446" width="1" height="61" fill="#c0c0c0"/>
<rect x="1139" y="446" width="1" height="60" fill="#c0c0c0"/>
<rect x="1147" y="446" width="1" height="59" fill="#c0c0c0"/>
<rect x="1155" y="446" width="1" height="59" fill="#c0c0c0"/>
<rect x="1163" y="446" width="1" height="59" fill="#c0c0c0"/>
<rect x="1171" y="446" width="1" height="61" fill="#c0c0c0"/>
<rect x="1179" y="446" width="1" height="64" fill="#c0c0c0"/>
<rect x="1187" y="446" width="1" height="63" fill="#c0c0c0"/>
<path d="M3 441h1v1h-1zM4 441h1v1h-1zM5 441h1v1h-1z" fill="#ff0000"/>
<path d="M9 442h1v1h-1zM10 443h1v1h-1zM11 443h1v1h-1zM12 443h1v1h-1zM13 443h1v1h-1z" fill="#ff0000"/>
<path d="M17 445h1v1h-1zM18 445h1v1h-1zM19 445h1v1h-1zM20 445h1v1h-1zM21 445h1v1h-1z" fill="#ff0000"/>
<path d="M25 446h1v1h-1zM26 446h1v1h-1zM27 446h1v1h-1zM28 446h1v1h-1zM29 446h1v1h-1z" fill="#ff0000"/>
<path d="M33 446h1v1h-1zM34 446h1v1h-1zM35 446h1v1h-1zM36 446h1v1h-1zM37 446h1v1h-1z" fill="#ff0000"/>
<path d="M41 445h1v1h-1zM42 445h1v1h-1zM43 445h1v1h-1zM44 445h1v1h-1zM45 444h1v1h-1z" fill="#ff0000"/>
<path d="M49 443h1v1h-1zM50 443h1v1h-1zM51 443h1v1h-1zM52 442h1v1h-1zM53 442h1v1h-1z" fill="#ff0000"/>
<path d="M57 440h1v1h-1zM58 439h1v1h-1zM59 439h1v1h-1zM60 438h1v1h-1zM61 438h1v1h-1z" fill="#ff0000"/>
<path d="M65 436h1v1h-1zM66 436h1v1h-1zM67 435h1v1h-1zM68 435h1v1h-1zM69 434h1v1h-1z" fill="#ff0000"/>
<path d="M73 432h1v1h-1zM74 432h1v1h-1zM75 431h1v1h-1zM76 431h1v1h-1zM77 430h1v1h-1z" fill="#ff0000"/>
<path d="M81 428h1v1h-1zM82 428h1v1h-1zM83 427h1v1h-1zM84 427h1v1h-1zM85 426h1v1h-1z" fill="#ff0000"/>
<path d="M89 423h1v1h-1zM90 422h1v1h-1zM91 421h1v1h-1zM92 420h1v1h-1zM93 419h1v1h-1z" fill="#ff0000"/>
<path d="M97 416h1v1h-1zM98 415h1v1h-1zM99 414h1v1h-1zM100 414h1v1h-1zM101 413h1v1h-1z" fill="#ff0000"/>
<path d="M105 411h1v1h-1zM106 410h1v1h-1zM107 409h1v1h-1zM108 409h1v1h-1zM109 408h1v1h-1z" fill="#ff0000"/>
<path d="M113 406h1v1h-1zM114 406h1v1h-1zM115 405h1v1h-1zM116 405h1v1h-1zM117 405h1v1h-1z" fill="#ff0000"/>
<path d="M121 404h1v1h-1zM122 404h1v1h-1zM123 404h1v1h-1zM124 404h1v1h-1zM125 403h1v1h-1z" fill="#ff0000"/>
<path d="M129 403h1v1h-1zM130 403h1v1h-1zM131 403h1v1h-1zM132 403h1v1h-1zM133 403h1v1h-1z" fill="#ff0000"/>
<path d="M137 403h1v1h-1zM138 403h1v1h-1zM139 403h1v1h-1zM140 403h1v1h-1zM141 403h1v1h-1z" fill="#ff0000"/>
<path d="M145 403h1v1h-1zM146 403h1v1h-1zM147 403h1v1h-1zM148 403h1v1h-1zM149 403h1v1h-1z" fill="#ff0000"/>
<path d="M153 404h1v1h-1zM154 405h1v1h-1zM155 405h1v1h-1zM156 405h1v1h-1zM157 406h1v1h-1z" fill="#ff0000"/>
<path d="M161 407h1v1h-1zM162 408h1v1h-1zM163 408h1v1h-1zM164 408h1v1h-1zM165 409h1v1h-1z" fill="#ff0000"/>
<path d="M169 411h1v1h-1zM170 411h1v1h-1zM171 411h1v1h-1zM172 412h1v1h-1zM173 412h1v1h-1z" fill="#ff0000"/>
<path d="M177 413h1v1h-1zM178 413h1v1h-1zM179 414h1v1h-1zM180 414h1v1h-1zM181 415h1v1h-1z" fill="#ff0000"/>
<path d="M185 416h1v1h-1zM186 417h1v1h-1zM187 417h1v1h-1zM188 417h1v1h-1zM189 417h1v1h-1z" fill="#ff0000"/>
<path d="M193 419h1v1h-1zM194 419h1v1h-1zM195 419h1v1h-1zM196 419h1v1h-1zM197 419h1v1h-1z" fill="#ff0000"/>
<path d="M201 421h1v1h-1zM202 421h1v1h-1zM203 421h1v1h-1zM204 421h1v1h-1zM205 422h1v1h-1z" fill="#ff0000"/>
<path d="M209 423h1v1h-1zM210 423h1v1h-1zM211 424h1v1h-1zM212 424h1v1h-1zM213 425h1v1h-1z" fill="#ff0000"/>
<path d="M217 427h1v1h-1zM218 427h1v1h-1zM219 428h1v1h-1zM220 428h1v1h-1zM221 429h1v1h-1z" fill="#ff0000"/>
<path d="M225 432h1v1h-1zM226 433h1v1h-1zM227 434h1v1h-1zM228 435h1v1h-1zM229 435h1v1h-1z" fill="#ff0000"/>
<path d="M233 439h1v1h-1zM234 439h1v1h-1zM235 440h1v1h-1zM236 441h1v1h-1zM237 442h1v1h-1z" fill="#ff0000"/>
<path d="M241 445h1v1h-1zM242 446h1v1h-1zM243 447h1v1h-1zM244 448h1v1h-1zM245 449h1v1h-1z" fill="#ff0000"/>
<path d="M249 453h1v1h-1zM250 454h1v1h-1zM251 455h1v1h-1zM252 456h1v1h-1zM253 457h1v1h-1z" fill="#ff0000"/>
<path d="M257 462h1v1h-1zM258 463h1v2h-1zM259 465h1v1h-1zM260 466h1v1h-1zM261 467h1v1h-1z" fill="#ff0000"/>
<path d="M265 472h1v1h-1zM266 473h1v2h-1zM267 475h1v1h-1zM268 476h1v1h-1zM269 477h1v1h-1z" fill="#ff0000"/>
<path d="M273 482h1v1h-1zM274 483h1v1h-1zM275 484h1v1h-1zM276 485h1v1h-1zM277 486h1v1h-1z" fill="#ff0000"/>
<path d="M281 490h1v1h-1zM282 491h1v1h-1zM283 492h1v1h-1zM284 493h1v1h-1zM285 494h1v1h-1z" fill="#ff0000"/>
<path d="M289 496h1v1h-1zM290 497h1v1h-1zM291 498h1v1h-1zM292 498h1v1h-1zM293 499h1v1h-1z" fill="#ff0000"/>
<path d="M297 501h1v1h-1zM298 502h1v1h-1zM299 502h1v1h-1zM300 503h1v1h-1zM301 503h1v1h-1z" fill="#ff0000"/>
<path d="M305 505h1v1h-1zM306 505h1v1h-1zM307 506h1v1h-1zM308 506h1v1h-1zM309 507h1v1h-1z" fill="#ff0000"/>
<path d="M313 508h1v1h-1zM314 508h1v1h-1zM315 508h1v1h-1zM316 509h1v1h-1zM317 509h1v1h-1z" fill="#ff0000"/>
<path d="M321 510h1v1h-1zM322 511h1v1h-1zM323 511h1v1h-1zM324 511h1v1h-1zM325 511h1v1h-1z" fill="#ff0000"/>
<path d="M329 511h1v1h-1zM330 511h1v1h-1zM331 511h1v1h-1zM332 511h1v1h-1zM333 511h1v1h-1z" fill="#ff0000"/>
<path d="M337 512h1v1h-1zM338 512h1v1h-1zM339 512h1v1h-1zM340 512h1v1h-1zM341 512h1v1h-1z" fill="#ff0000"/>
<path d="M345 511h1v1h-1zM346 511h1v1h-1zM347 511h1v1h-1zM348 511h1v1h-1zM349 511h1v1h-1z" fill="#ff0000"/>
<path d="M353 511h1v1h-1zM354 511h1v1h-1zM355 511h1v1h-1zM356 511h1v1h-1zM357 511h1v1h-1z" fill="#ff0000"/>
<path d="M361 511h1v1h-1zM362 511h1v1h-1zM363 511h1v1h-1zM364 510h1v1h-1zM365 510h1v1h-1z" fill="#ff0000"/>
<path d="M369 510h1v1h-1zM370 510h1v1h-1zM371 510h1v1h-1zM372 510h1v1h-1zM373 510h1v1h-1z" fill="#ff0000"/>
<path d="M377 510h1v1h-1zM378 510h1v1h-1zM379 510h1v1h-1zM380 510h1v1h-1zM381 510h1v1h-1z" fill="#ff0000"/>
<path d="M385 510h1v1h-1zM386 510h1v1h-1zM387 510h1v1h-1zM388 510h1v1h-1zM389 509h1v1h-1z" fill="#ff0000"/>
<path d="M393 509h1v1h-1zM394 509h1v1h-1zM395 509h1v1h-1zM396 509h1v1h-1zM397 509h1v1h-1z" fill="#ff0000"/>
<path d="M401 509h1v1h-1zM402 509h1v1h-1zM403 509h1v1h-1zM404 509h1v1h-1zM405 509h1v1h-1z" fill="#ff0000"/>
<path d="M409 508h1v1h-1zM410 508h1v1h-1zM411 508h1v1h-1zM412 508h1v1h-1zM413 508h1v1h-1z" fill="#ff0000"/>
<path d="M417 507h1v1h-1zM418 507h1v1h-1zM419 507h1v1h-1zM420 507h1v1h-1zM421 507h1v1h-1z" fill="#ff0000"/>
<path d="M425 506h1v1h-1zM426 506h1v1h-1zM427 506h1v1h-1zM428 506h1v1h-1zM429 506h1v1h-1z" fill="#ff0000"/>
<path d="M433 505h1v1h-1zM434 505h1v1h-1zM435 505h1v1h-1zM436 505h1v1h-1zM437 505h1v1h-1z" fill="#ff0000"/>
<path d="M441 504h1v1h-1zM442 504h1v1h-1zM443 504h1v1h-1zM444 504h1v1h-1zM445 503h1v1h-1z" fill="#ff0000"/>
<path d="M449 502h1v1h-1zM450 502h1v1h-1zM451 502h1v1h-1zM452 501h1v1h-1zM453 501h1v1h-1z" fill="#ff0000"/>
<path d="M457 500h1v1h-1zM458 500h1v1h-1zM459 499h1v1h-1zM460 499h1v1h-1zM461 499h1v1h-1z" fill="#ff0000"/>
<path d="M465 498h1v1h-1zM466 498h1v1h-1zM467 497h1v1h-1zM468 497h1v1h-1zM469 497h1v1h-1z" fill="#ff0000"/>
<path d="M473 496h1v1h-1zM474 496h1v1h-1zM475 495h1v1h-1zM476 495h1v1h-1zM477 495h1v1h-1z" fill="#ff0000"/>
<path d="M481 494h1v1h-1zM482 494h1v1h-1zM483 494h1v1h-1zM484 493h1v1h-1zM485 493h1v1h-1z" fill="#ff0000"/>
<path d="M489 492h1v1h-1zM490 492h1v1h-1zM491 492h1v1h-1zM492 491h1v1h-1zM493 491h1v1h-1z" fill="#ff0000"/>
<path d="M497 490h1v1h-1zM498 490h1v1h-1zM499 490h1v1h-1zM500 489h1v1h-1zM501 489h1v1h-1z" fill="#ff0000"/>
<path d="M505 488h1v1h-1zM506 487h1v1h-1zM507 487h1v1h-1zM508 487h1v1h-1zM509 486h1v1h-1z" fill="#ff0000"/>
<path d="M513 485h1v1h-1zM514 484h1v1h-1zM515 484h1v1h-1zM516 484h1v1h-1zM517 484h1v1h-1z" fill="#ff0000"/>
<path d="M521 482h1v1h-1zM522 482h1v1h-1zM523 482h1v1h-1zM524 482h1v1h-1zM525 481h1v1h-1z" fill="#ff0000"/>
<path d="M529 480h1v1h-1zM530 480h1v1h-1zM531 480h1v1h-1zM532 479h1v1h-1zM533 479h1v1h-1z" fill="#ff0000"/>
<path d="M537 477h1v1h-1zM538 477h1v1h-1zM539 476h1v1h-1zM540 476h1v1h-1zM541 475h1v1h-1z" fill="#ff0000"/>
<path d="M545 473h1v1h-1zM546 473h1v1h-1zM547 473h1v1h-1zM548 472h1v1h-1zM549 472h1v1h-1z" fill="#ff0000"/>
<path d="M553 471h1v1h-1zM554 470h1v1h-1zM555 470h1v1h-1zM556 469h1v1h-1zM557 469h1v1h-1z" fill="#ff0000"/>
<path d="M561 468h1v1h-1zM562 467h1v1h-1zM563 467h1v1h-1zM564 466h1v1h-1zM565 466h1v1h-1z" fill="#ff0000"/>
<path d="M569 464h1v1h-1zM570 464h1v1h-1zM571 463h1v1h-1zM572 463h1v1h-1zM573 463h1v1h-1z" fill="#ff0000"/>
<path d="M577 461h1v1h-1zM578 460h1v1h-1zM579 460h1v1h-1zM580 460h1v1h-1zM581 459h1v1h-1z" fill="#ff0000"/>
<path d="M585 458h1v1h-1zM586 457h1v1h-1zM587 457h1v1h-1zM588 457h1v1h-1zM589 456h1v1h-1z" fill="#ff0000"/>
<path d="M593 455h1v1h-1zM594 454h1v1h-1zM595 454h1v1h-1zM596 454h1v1h-1zM597 453h1v1h-1z" fill="#ff0000"/>
<path d="M601 451h1v1h-1zM602 451h1v1h-1zM603 451h1v1h-1zM604 450h1v1h-1zM605 450h1v1h-1z" fill="#ff0000"/>
<path d="M609 449h1v1h-1zM610 449h1v1h-1zM611 449h1v1h-1zM612 449h1v1h-1zM613 448h1v1h-1z" fill="#ff0000"/>
<path d="M617 447h1v1h-1zM618 447h1v1h-1zM619 447h1v1h-1zM620 446h1v1h-1zM621 446h1v1h-1z" fill="#ff0000"/>
<path d="M625 445h1v1h-1zM626 445h1v1h-1zM627 445h1v1h-1zM628 445h1v1h-1zM629 445h1v1h-1z" fill="#ff0000"/>
<path d="M633 444h1v1h-1zM634 444h1v1h-1zM635 444h1v1h-1zM636 444h1v1h-1zM637 444h1v1h-1z" fill="#ff0000"/>
<path d="M641 444h1v1h-1zM642 444h1v1h-1zM643 444h1v1h-1zM644 444h1v1h-1zM645 444h1v1h-1z" fill="#ff0000"/>
<path d="M649 445h1v1h-1zM650 445h1v1h-1zM651 445h1v1h-1zM652 445h1v1h-1zM653 445h1v1h-1z" fill="#ff0000"/>
<path d="M657 446h1v1h-1zM658 446h1v1h-1zM659 446h1v1h-1zM660 446h1v1h-1zM661 446h1v1h-1z" fill="#ff0000"/>
<path d="M665 447h1v1h-1zM666 447h1v1h-1zM667 447h1v1h-1zM668 447h1v1h-1zM669 447h1v1h-1z" fill="#ff0000"/>
<path d="M673 448h1v1h-1zM674 448h1v1h-1zM675 448h1v1h-1zM676 449h1v1h-1zM677 449h1v1h-1z" fill="#ff0000"/>
<path d="M681 450h1v1h-1zM682 450h1v1h-1zM683 450h1v1h-1zM684 450h1v1h-1zM685 451h1v1h-1z" fill="#ff0000"/>
<path d="M689 452h1v1h-1zM690 452h1v1h-1zM691 452h1v1h-1zM692 453h1v1h-1zM693 453h1v1h-1z" fill="#ff0000"/>
<path d="M697 454h1v1h-1zM698 454h1v1h-1zM699 455h1v1h-1zM700 455h1v1h-1zM701 455h1v1h-1z" fill="#ff0000"/>
<path d="M705 456h1v1h-1zM706 456h1v1h-1zM707 457h1v1h-1zM708 457h1v1h-1zM709 457h1v1h-1z" fill="#ff0000"/>
<path d="M713 458h1v1h-1zM714 458h1v1h-1zM715 459h1v1h-1zM716 459h1v1h-1zM717 459h1v1h-1z" fill="#ff0000"/>
<path d="M721 461h1v1h-1zM722 461h1v1h-1zM723 462h1v1h-1zM724 462h1v1h-1zM725 463h1v1h-1z" fill="#ff0000"/>
<path d="M729 465h1v1h-1zM730 465h1v1h-1zM731 466h1v1h-1zM732 466h1v1h-1zM733 467h1v1h-1z" fill="#ff0000"/>
<path d="M737 469h1v1h-1zM738 470h1v1h-1zM739 470h1v1h-1zM740 471h1v1h-1zM741 471h1v1h-1z" fill="#ff0000"/>
<path d="M745 474h1v1h-1zM746 474h1v1h-1zM747 475h1v1h-1zM748 476h1v1h-1zM749 476h1v1h-1z" fill="#ff0000"/>
<path d="M753 479h1v1h-1zM754 480h1v1h-1zM755 480h1v1h-1zM756 481h1v1h-1zM757 482h1v1h-1z" fill="#ff0000"/>
<path d="M761 485h1v1h-1zM762 486h1v1h-1zM763 487h1v1h-1zM764 488h1v1h-1zM765 488h1v1h-1z" fill="#ff0000"/>
<path d="M769 490h1v1h-1zM770 491h1v1h-1zM771 491h1v1h-1zM772 492h1v1h-1zM773 492h1v1h-1z" fill="#ff0000"/>
<path d="M777 494h1v1h-1zM778 495h1v1h-1zM779 495h1v1h-1zM780 496h1v1h-1zM781 496h1v1h-1z" fill="#ff0000"/>
<path d="M785 498h1v1h-1zM786 498h1v1h-1zM787 499h1v1h-1zM788 499h1v1h-1zM789 499h1v1h-1z" fill="#ff0000"/>
<path d="M793 501h1v1h-1zM794 501h1v1h-1zM795 502h1v1h-1zM796 502h1v1h-1zM797 502h1v1h-1z" fill="#ff0000"/>
<path d="M801 504h1v1h-1zM802 504h1v1h-1zM803 505h1v1h-1zM804 505h1v1h-1zM805 506h1v1h-1z" fill="#ff0000"/>
<path d="M809 507h1v1h-1zM810 507h1v1h-1zM811 508h1v1h-1zM812 508h1v1h-1zM813 508h1v1h-1z" fill="#ff0000"/>
<path d="M817 509h1v1h-1zM818 510h1v1h-1zM819 510h1v1h-1zM820 510h1v1h-1zM821 510h1v1h-1z" fill="#ff0000"/>
<path d="M825 511h1v1h-1zM826 512h1v1h-1zM827 512h1v1h-1zM828 513h1v1h-1zM829 513h1v1h-1z" fill="#ff0000"/>
<path d="M833 515h1v1h-1zM834 515h1v1h-1zM835 516h1v1h-1zM836 516h1v1h-1zM837 516h1v1h-1z" fill="#ff0000"/>
<path d="M841 518h1v1h-1zM842 519h1v1h-1zM843 519h1v1h-1zM844 520h1v1h-1zM845 520h1v1h-1z" fill="#ff0000"/>
<path d="M849 522h1v1h-1zM850 523h1v1h-1zM851 523h1v1h-1zM852 524h1v1h-1zM853 524h1v1h-1z" fill="#ff0000"/>
<path d="M857 526h1v1h-1zM858 527h1v1h-1zM859 527h1v1h-1zM860 527h1v1h-1zM861 528h1v1h-1z" fill="#ff0000"/>
<path d="M865 530h1v1h-1zM866 530h1v1h-1zM867 530h1v1h-1zM868 531h1v1h-1zM869 531h1v1h-1z" fill="#ff0000"/>
<path d="M873 533h1v1h-1zM874 533h1v1h-1zM875 533h1v1h-1zM876 534h1v1h-1zM877 534h1v1h-1z" fill="#ff0000"/>
<path d="M881 535h1v1h-1zM882 535h1v1h-1zM883 535h1v1h-1zM884 536h1v1h-1zM885 536h1v1h-1z" fill="#ff0000"/>
<path d="M889 537h1v1h-1zM890 537h1v1h-1zM891 537h1v1h-1zM892 537h1v1h-1zM893 536h1v1h-1z" fill="#ff0000"/>
<path d="M897 536h1v1h-1zM898 536h1v1h-1zM899 536h1v1h-1zM900 536h1v1h-1zM901 536h1v1h-1z" fill="#ff0000"/>
<path d="M905 535h1v1h-1zM906 535h1v1h-1zM907 535h1v1h-1zM908 535h1v1h-1zM909 534h1v1h-1z" fill="#ff0000"/>
<path d="M913 533h1v1h-1zM914 532h1v1h-1zM915 532h1v1h-1zM916 531h1v1h-1zM917 531h1v1h-1z" fill="#ff0000"/>
<path d="M921 529h1v1h-1zM922 529h1v1h-1zM923 528h1v1h-1zM924 527h1v1h-1zM925 527h1v1h-1z" fill="#ff0000"/>
<path d="M929 524h1v1h-1zM930 524h1v1h-1zM931 523h1v1h-1zM932 522h1v1h-1zM933 522h1v1h-1z" fill="#ff0000"/>
<path d="M937 519h1v1h-1zM938 518h1v1h-1zM939 518h1v1h-1zM940 517h1v1h-1zM941 516h1v1h-1z" fill="#ff0000"/>
<path d="M945 513h1v1h-1zM946 513h1v1h-1zM947 512h1v1h-1zM948 511h1v1h-1zM949 510h1v1h-1z" fill="#ff0000"/>
<path d="M953 507h1v1h-1zM954 507h1v1h-1zM955 506h1v1h-1zM956 505h1v1h-1zM957 505h1v1h-1z" fill="#ff0000"/>
<path d="M961 503h1v1h-1zM962 502h1v1h-1zM963 501h1v1h-1zM964 501h1v1h-1zM965 500h1v1h-1z" fill="#ff0000"/>
<path d="M969 498h1v1h-1zM970 497h1v1h-1zM971 497h1v1h-1zM972 496h1v1h-1zM973 496h1v1h-1z" fill="#ff0000"/>
<path d="M977 495h1v1h-1zM978 494h1v1h-1zM979 494h1v1h-1zM980 494h1v1h-1zM981 493h1v1h-1z" fill="#ff0000"/>
<path d="M985 492h1v1h-1zM986 491h1v1h-1zM987 491h1v1h-1zM988 491h1v1h-1zM989 490h1v1h-1z" fill="#ff0000"/>
<path d="M993 490h1v1h-1zM994 490h1v1h-1zM995 490h1v1h-1zM996 490h1v1h-1zM997 490h1v1h-1z" fill="#ff0000"/>
<path d="M1001 489h1v1h-1zM1002 489h1v1h-1zM1003 489h1v1h-1zM1004 489h1v1h-1zM1005 489h1v1h-1z" fill="#ff0000"/>
<path d="M1009 489h1v1h-1zM1010 489h1v1h-1zM1011 489h1v1h-1zM1012 489h1v1h-1zM1013 489h1v1h-1z" fill="#ff0000"/>
<path d="M1017 489h1v1h-1zM1018 489h1v1h-1zM1019 489h1v1h-1zM1020 489h1v1h-1zM1021 489h1v1h-1z" fill="#ff0000"/>
<path d="M1025 489h1v1h-1zM1026 489h1v1h-1zM1027 489h1v1h-1zM1028 489h1v1h-1zM1029 489h1v1h-1z" fill="#ff0000"/>
<path d="M1033 489h1v1h-1zM1034 489h1v1h-1zM1035 489h1v1h-1zM1036 489h1v1h-1zM1037 489h1v1h-1z" fill="#ff0000"/>
<path d="M1041 489h1v1h-1zM1042 489h1v1h-1zM1043 489h1v1h-1zM1044 489h1v1h-1zM1045 489h1v1h-1z" fill="#ff0000"/>
<path d="M1049 489h1v1h-1zM1050 489h1v1h-1zM1051 489h1v1h-1zM1052 489h1v1h-1zM1053 489h1v1h-1z" fill="#ff0000"/>
<path d="M1057 490h1v1h-1zM1058 490h1v1h-1zM1059 490h1v1h-1zM1060 490h1v1h-1zM1061 490h1v1h-1z" fill="#ff0000"/>
<path d="M1065 490h1v1h-1zM1066 490h1v1h-1zM1067 490h1v1h-1zM1068 490h1v1h-1zM1069 490h1v1h-1z" fill="#ff0000"/>
<path d="M1073 490h1v1h-1zM1074 490h1v1h-1zM1075 490h1v1h-1zM1076 490h1v1h-1zM1077 490h1v1h-1z" fill="#ff0000"/>
<path d="M1081 490h1v1h-1zM1082 490h1v1h-1zM1083 490h1v1h-1zM1084 490h1v1h-1zM1085 490h1v1h-1z" fill="#ff0000"/>
<path d="M1089 491h1v1h-1zM1090 491h1v1h-1zM1091 491h1v1h-1zM1092 491h1v1h-1zM1093 491h1v1h-1z" fill="#ff0000"/>
<path d="M1097 492h1v1h-1zM1098 492h1v1h-1zM1099 492h1v1h-1zM1100 492h1v1h-1zM1101 492h1v1h-1z" fill="#ff0000"/>
<path d="M1105 493h1v1h-1zM1106 493h1v1h-1zM1107 493h1v1h-1zM1108 493h1v1h-1zM1109 493h1v1h-1z" fill="#ff0000"/>
<path d="M1113 495h1v1h-1zM1114 495h1v1h-1zM1115 495h1v1h-1zM1116 496h1v1h-1zM1117 496h1v1h-1z" fill="#ff0000"/>
<path d="M1121 497h1v1h-1zM1122 498h1v1h-1zM1123 498h1v1h-1zM1124 498h1v1h-1zM1125 498h1v1h-1z" fill="#ff0000"/>
<path d="M1129 499h1v1h-1zM1130 499h1v1h-1zM1131 499h1v1h-1zM1132 499h1v1h-1zM1133 500h1v1h-1z" fill="#ff0000"/>
<path d="M1137 500h1v1h-1zM1138 500h1v1h-1zM1139 500h1v1h-1zM1140 501h1v1h-1zM1141 501h1v1h-1z" fill="#ff0000"/>
<path d="M1145 501h1v1h-1zM1146 501h1v1h-1zM1147 501h1v1h-1zM1148 501h1v1h-1zM1149 501h1v1h-1z" fill="#ff0000"/>
<path d="M1153 502h1v1h-1zM1154 502h1v1h-1zM1155 502h1v1h-1zM1156 502h1v1h-1zM1157 502h1v1h-1z" fill="#ff0000"/>
<path d="M1161 503h1v1h-1zM1162 503h1v1h-1zM1163 503h1v1h-1zM1164 503h1v1h-1zM1165 503h1v1h-1z" fill="#ff0000"/>
<path d="M1169 504h1v1h-1zM1170 505h1v1h-1zM1171 505h1v1h-1zM1172 505h1v1h-1zM1173 505h1v1h-1z" fill="#ff0000"/>
<path d="M1177 506h1v1h-1zM1178 507h1v1h-1zM1179 507h1v1h-1zM1180 507h1v1h-1zM1181 507h1v1h-1z" fill="#ff0000"/>
<path d="M1185 507h1v1h-1zM1186 507h1v1h-1zM1187 507h1v1h-1z" fill="#ff0000"/>
</g>
<rect x="1209" y="387" width="2" height="1" fill="#000"/>
<text class="s" x="1346.67" y="396.80" fill="#000" color="#000" font-size="10" transform="scale(0.9 1)">0.7983</text>
<rect x="1209" y="446" width="2" height="1" fill="#000"/>
<text class="s" x="1346.67" y="450.40" fill="#000" color="#000" font-size="10" transform="scale(0.9 1)">0.00</text>
<rect x="1209" y="550" width="2" height="1" fill="#000"/>
<text class="s" x="1346.67" y="548.40" fill="#000" color="#000" font-size="10" transform="scale(0.9 1)">-1.3996</text>
<text class="s" x="6.11" y="566.60" fill="#000" color="#000" font-size="10" transform="scale(0.9 1)" textLength="77.00" lengthAdjust="spacingAndGlyphs">RSI(14) 31.1681</text>
<g clip-path="url(#cr)">
<line x1="4" y1="591.5" x2="1208" y2="591.5" stroke="#c0c0c0" stroke-width="1" stroke-dasharray="3 3"/>
<line x1="4" y1="640.5" x2="1208" y2="640.5" stroke="#c0c0c0" stroke-width="1" stroke-dasharray="3 3"/>
<polyline points="2,622.2 3.5,622.2 11.5,621.2 19.5,622.2 27.5,622.2 35.5,588.5 43.5,587.3 51.5,581.6 59.5,590.9 67.5,597.2 75.5,596.4 83.5,588.0 91.5,583.2 99.5,591.6 107.5,596.4 115.5,607.3 123.5,606.1 131.5,610.9 139.5,617.3 147.5,612.1 155.5,614.0 163.5,617.3 171.5,615.2 179.5,593.3 187.5,610.1 195.5,612.5 203.5,619.3 211.5,628.9 219.5,637.3 227.5,634.2 235.5,633.2 243.5,635.4 251.5,635.4 259.5,638.5 267.5,633.2 275.5,634.2 283.5,635.4 291.5,633.2 299.5,631.3 307.5,636.1 315.5,636.1 323.5,633.2 331.5,635.4 339.5,633.2 347.5,632.0 355.5,633.7 363.5,638.5 371.5,642.1 379.5,640.4 387.5,640.4 395.5,640.4 403.5,630.6 411.5,633.2 419.5,631.3 427.5,634.2 435.5,634.2 443.5,633.0 451.5,628.4 459.5,638.0 467.5,630.8 475.5,626.5 483.5,624.6 491.5,625.3 499.5,629.4 507.5,620.5 515.5,618.1 523.5,615.7 531.5,617.3 539.5,614.5 547.5,612.5 555.5,615.2 563.5,615.2 571.5,612.1 579.5,604.4 587.5,606.1 595.5,607.3 603.5,610.9 611.5,616.4 619.5,612.8 627.5,616.9 635.5,621.7 643.5,627.7 651.5,633.2 659.5,618.1 667.5,621.7 675.5,621.7 683.5,624.1 691.5,626.0 699.5,626.0 707.5,638.5 715.5,643.8 723.5,648.6 731.5,650.5 739.5,650.5 747.5,650.5 755.5,655.3 763.5,642.1 771.5,640.4 779.5,640.4 787.5,635.6 795.5,639.0 803.5,649.3 811.5,647.6 819.5,647.6 827.5,656.5 835.5,649.3 843.5,650.5 851.5,651.7 859.5,649.3 867.5,644.5 875.5,644.6 883.5,645.6 891.5,640.1 899.5,640.1 907.5,626.5 915.5,630.1 923.5,624.4 931.5,618.9 939.5,620.4 947.5,621.9 955.5,629.5 963.5,629.5 971.5,631.0 979.5,634.7 987.5,638.9 995.5,640.1 1003.5,641.7 1011.5,634.1 1019.5,627.1 1027.5,619.5 1035.5,625.0 1043.5,629.5 1051.5,637.1 1059.5,637.1 1067.5,637.1 1075.5,641.7 1083.5,634.7 1091.5,631.6 1099.5,629.5 1107.5,636.5 1115.5,644.7 1123.5,645.6 1131.5,635.6 1139.5,635.6 1147.5,631.0 1155.5,632.6 1163.5,639.5 1171.5,640.1 1179.5,640.1 1187.5,638.0" fill="none" stroke="#1e90ff" stroke-width="1"/>
</g>
<rect x="1209" y="555" width="2" height="1" fill="#000"/>
<rect x="1209" y="676" width="2" height="1" fill="#000"/>
<text class="s" x="1347.22" y="564.80" fill="#000" color="#000" font-size="10" transform="scale(0.9 1)">100</text>
<text class="s" x="1345.11" y="596.10" fill="#000" color="#000" font-size="10" transform="scale(0.9 1)">70</text>
<text class="s" x="1345.56" y="644.90" fill="#000" color="#000" font-size="10" transform="scale(0.9 1)">30</text>
<text class="s" x="1346.11" y="674.60" fill="#000" color="#000" font-size="10" transform="scale(0.9 1)">0</text>
<rect x="3" y="678" width="1" height="3" fill="#000"/>
<text class="s" x="2.00" y="690.60" fill="#000" color="#000" font-size="10" transform="scale(0.9 1)">2 Jan 2020</text>
<rect x="67" y="678" width="1" height="3" fill="#000"/>
<text class="s" x="73.11" y="690.60" fill="#000" color="#000" font-size="10" transform="scale(0.9 1)">3 Jan 16:00</text>
<rect x="131" y="678" width="1" height="3" fill="#000"/>
<text class="s" x="144.22" y="690.60" fill="#000" color="#000" font-size="10" transform="scale(0.9 1)">6 Jan 20:00</text>
<rect x="195" y="678" width="1" height="3" fill="#000"/>
<text class="s" x="215.33" y="690.60" fill="#000" color="#000" font-size="10" transform="scale(0.9 1)">8 Jan 04:00</text>
<rect x="259" y="678" width="1" height="3" fill="#000"/>
<text class="s" x="286.44" y="690.60" fill="#000" color="#000" font-size="10" transform="scale(0.9 1)">9 Jan 12:00</text>
<rect x="323" y="678" width="1" height="3" fill="#000"/>
<text class="s" x="357.56" y="690.60" fill="#000" color="#000" font-size="10" transform="scale(0.9 1)">10 Jan 20:00</text>
<rect x="387" y="678" width="1" height="3" fill="#000"/>
<text class="s" x="428.67" y="690.60" fill="#000" color="#000" font-size="10" transform="scale(0.9 1)">14 Jan 00:00</text>
<rect x="451" y="678" width="1" height="3" fill="#000"/>
<text class="s" x="499.78" y="690.60" fill="#000" color="#000" font-size="10" transform="scale(0.9 1)">15 Jan 08:00</text>
<rect x="515" y="678" width="1" height="3" fill="#000"/>
<text class="s" x="570.89" y="690.60" fill="#000" color="#000" font-size="10" transform="scale(0.9 1)">16 Jan 16:00</text>
<rect x="579" y="678" width="1" height="3" fill="#000"/>
<text class="s" x="642.00" y="690.60" fill="#000" color="#000" font-size="10" transform="scale(0.9 1)">19 Jan 23:00</text>
<rect x="643" y="678" width="1" height="3" fill="#000"/>
<text class="s" x="713.11" y="690.60" fill="#000" color="#000" font-size="10" transform="scale(0.9 1)">21 Jan 04:00</text>
<rect x="707" y="678" width="1" height="3" fill="#000"/>
<text class="s" x="784.22" y="690.60" fill="#000" color="#000" font-size="10" transform="scale(0.9 1)">22 Jan 12:00</text>
<rect x="771" y="678" width="1" height="3" fill="#000"/>
<text class="s" x="855.33" y="690.60" fill="#000" color="#000" font-size="10" transform="scale(0.9 1)">23 Jan 20:00</text>
<rect x="835" y="678" width="1" height="3" fill="#000"/>
<text class="s" x="926.44" y="690.60" fill="#000" color="#000" font-size="10" transform="scale(0.9 1)">27 Jan 00:00</text>
<rect x="899" y="678" width="1" height="3" fill="#000"/>
<text class="s" x="997.56" y="690.60" fill="#000" color="#000" font-size="10" transform="scale(0.9 1)">28 Jan 08:00</text>
<rect x="963" y="678" width="1" height="3" fill="#000"/>
<text class="s" x="1068.67" y="690.60" fill="#000" color="#000" font-size="10" transform="scale(0.9 1)">29 Jan 16:00</text>
<rect x="1027" y="678" width="1" height="3" fill="#000"/>
<text class="s" x="1139.78" y="690.60" fill="#000" color="#000" font-size="10" transform="scale(0.9 1)">31 Jan 00:00</text>
<rect x="1091" y="678" width="1" height="3" fill="#000"/>
<text class="s" x="1210.89" y="690.60" fill="#000" color="#000" font-size="10" transform="scale(0.9 1)">3 Feb 04:00</text>
<rect x="1155" y="678" width="1" height="3" fill="#000"/>
<text class="s" x="1282.00" y="690.60" fill="#000" color="#000" font-size="10" transform="scale(0.9 1)">4 Feb 12:00</text>
<rect x="0" y="698" width="1249" height="1" fill="#d9d9d9"/>
<rect x="0" y="699" width="1249" height="1" fill="#f4f4f4"/>
<rect x="0" y="700" width="1249" height="1" fill="#000000"/>
<rect x="5" y="700" width="78" height="1" fill="#f4f4f4"/>
</svg>
</body></html>
